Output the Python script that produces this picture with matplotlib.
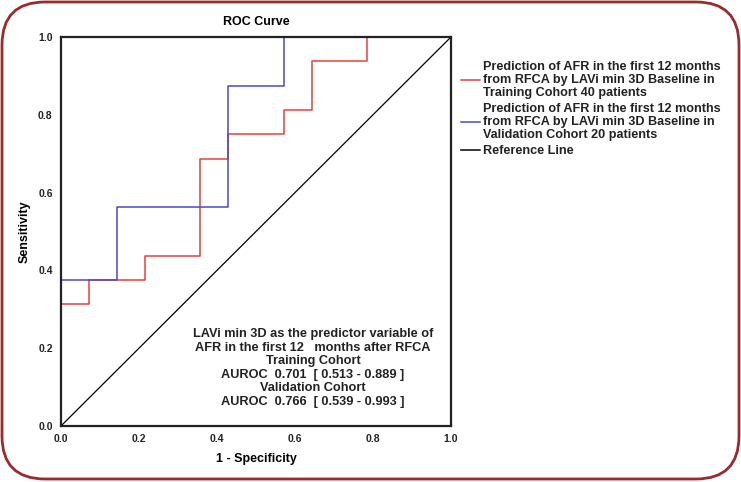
import matplotlib
matplotlib.use("Agg")
import matplotlib.pyplot as plt
from matplotlib.patches import FancyBboxPatch
from matplotlib.lines import Line2D
from matplotlib.transforms import IdentityTransform

plt.rcParams['font.family'] = ['Liberation Sans', 'DejaVu Sans']

# ROC step points
train_fpr = [0.0, 0.0, 1/14, 1/14, 3/14, 3/14, 5/14, 5/14, 6/14, 6/14, 8/14, 8/14, 9/14, 9/14, 11/14, 11/14, 1.0]
train_tpr = [0.0, 5/16, 5/16, 6/16, 6/16, 7/16, 7/16, 11/16, 11/16, 12/16, 12/16, 13/16, 13/16, 15/16, 15/16, 1.0, 1.0]
valid_fpr = [0.0, 0.0, 1/7, 1/7, 3/7, 3/7, 4/7, 4/7, 1.0]
valid_tpr = [0.0, 3/8, 3/8, 9/16, 9/16, 7/8, 7/8, 1.0, 1.0]
ref_line = [0.0, 1.0]

legend_labels = [
    "Prediction of AFR in the first 12 months\nfrom RFCA by LAVi min 3D Baseline in\nTraining Cohort 40 patients",
    "Prediction of AFR in the first 12 months\nfrom RFCA by LAVi min 3D Baseline in\nValidation Cohort 20 patients",
    "Reference Line",
]
note = ("LAVi min 3D as the predictor variable of\n"
        "AFR in the first 12   months after RFCA\n"
        "Training Cohort\n"
        "AUROC  0.701  [ 0.513 - 0.889 ]\n"
        "Validation Cohort\n"
        "AUROC  0.766  [ 0.539 - 0.993 ]")
ticks = [0.0, 0.2, 0.4, 0.6, 0.8, 1.0]

fig = plt.figure(figsize=(7.41, 4.82), dpi=100)

# rounded dark red frame around the whole picture (pixel coords)
frame = FancyBboxPatch((2, 3), 737, 477,
                       boxstyle="round,pad=0,rounding_size=43",
                       transform=IdentityTransform(), fill=False,
                       edgecolor='#9b2a2d', linewidth=2.0)
fig.patches.append(frame)

ax = fig.add_axes([0.0823, 0.1162, 0.5263, 0.807])
ax.plot(train_fpr, train_tpr, color='#e8403a', linewidth=1.1)
ax.plot(valid_fpr, valid_tpr, color='#4a48c8', linewidth=1.1)
ax.plot(ref_line, ref_line, color='black', linewidth=0.9)

ax.set_xlim(0, 1)
ax.set_ylim(0, 1)
ax.set_xticks(ticks)
ax.set_yticks(ticks)
ax.set_xticklabels(['%.1f' % t for t in ticks], fontsize=7.5, fontweight='bold', color='#222222')
ax.set_yticklabels(['%.1f' % t for t in ticks], fontsize=7.5, fontweight='bold', color='#222222')
ax.tick_params(length=0, pad=6)
for s in ax.spines.values():
    s.set_linewidth(1.6)
    s.set_color('#222222')

ax.set_xlabel("1 - Specificity", fontsize=9, fontweight='bold', labelpad=6)
ax.set_ylabel("Sensitivity", fontsize=9, fontweight='bold', labelpad=5)
ax.set_title("ROC Curve", fontsize=9, fontweight='bold', pad=9)

ax.text(0.646, 0.149, note, transform=ax.transData, ha='center', va='center',
        fontsize=9.2, fontweight='bold', color='#222222', linespacing=1.17)

handles = [Line2D([], [], color='#e8403a', linewidth=1.1),
           Line2D([], [], color='#4a48c8', linewidth=1.1),
           Line2D([], [], color='black', linewidth=1.1)]
leg = fig.legend(handles, legend_labels, loc='upper left', bbox_to_anchor=(0.607, 0.897),
                 frameon=False, handlelength=1.5, handletextpad=0.25, labelspacing=0.35,
                 prop={'size': 9.1, 'weight': 'bold'})
for t in leg.get_texts():
    t.set_linespacing(1.1)
    t.set_color('#222222')

fig.savefig("out.png", dpi=100)
